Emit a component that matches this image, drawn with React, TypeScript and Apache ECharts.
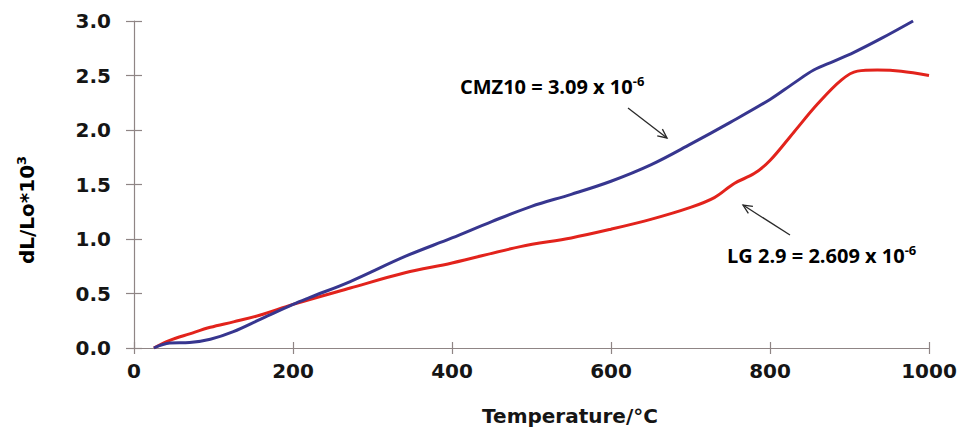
import React, { useEffect, useRef } from "react";
import * as echarts from "echarts";

// CMZ10 (blue)
const cmzTemp = [25, 45, 70, 96, 125, 158, 200, 220, 272, 341, 400, 450, 500, 550, 600, 650, 700, 750, 800, 830, 855, 880, 905, 940, 980];
const cmzVal = [0, 0.045, 0.05, 0.08, 0.15, 0.26, 0.4, 0.46, 0.61, 0.84, 1.01, 1.16, 1.3, 1.41, 1.53, 1.68, 1.87, 2.07, 2.28, 2.43, 2.55, 2.63, 2.71, 2.84, 3.0];
// LG 2.9 (red)
const lgTemp = [25, 45, 70, 96, 125, 158, 200, 272, 341, 400, 486, 550, 600, 650, 700, 730, 755, 780, 800, 830, 860, 890, 910, 935, 965, 1000];
const lgVal = [0, 0.07, 0.13, 0.19, 0.24, 0.3, 0.4, 0.55, 0.69, 0.78, 0.93, 1.01, 1.09, 1.18, 1.29, 1.38, 1.51, 1.6, 1.72, 1.98, 2.24, 2.46, 2.54, 2.55, 2.54, 2.5];

const xTicks = { min: 0, max: 1000, interval: 200 };
const yTicks = { min: 0, max: 3, interval: 0.5 };

const cmzLabel = ["CMZ10 = 3.09 x 10", "-6"];
const lgLabel = ["LG 2.9 = 2.609 x 10", "-6"];
const xName = "Temperature/°C";
const yName = ["dL/Lo*10", "3"];

const AXIS_COLOR = "#8f8585";
const TEXT_COLOR = "#151515";
const TICK_FONT = "DejaVu Sans";

function arrow(x1: number, y1: number, x2: number, y2: number) {
  const dx = x2 - x1;
  const dy = y2 - y1;
  const len = Math.sqrt(dx * dx + dy * dy);
  const ux = dx / len;
  const uy = dy / len;
  const h = 10;
  const a = (25 * Math.PI) / 180;
  const rot = (ang: number) => [ux * Math.cos(ang) - uy * Math.sin(ang), ux * Math.sin(ang) + uy * Math.cos(ang)];
  const [r1x, r1y] = rot(a);
  const [r2x, r2y] = rot(-a);
  const style = { stroke: "#2a2a2a", lineWidth: 1.3, fill: null };
  return [
    { type: "line", shape: { x1, y1, x2, y2 }, style },
    {
      type: "polyline",
      shape: { points: [[x2 - h * r1x, y2 - h * r1y], [x2, y2], [x2 - h * r2x, y2 - h * r2y]] },
      style,
    },
  ];
}

export default function App() {
  const ref = useRef<HTMLDivElement>(null);
  useEffect(() => {
    if (!ref.current) return;
    const chart = echarts.init(ref.current, null, { renderer: "svg" });
    const annStyleRich = {
      b: { fontFamily: "Open Sans", fontWeight: "bold", fontSize: 20, color: TEXT_COLOR, lineHeight: 24 },
      s: { fontFamily: "Open Sans", fontWeight: "bold", fontSize: 13, color: TEXT_COLOR, verticalAlign: "top", lineHeight: 24, padding: [0, 0, 10, 0] },
    };
    chart.setOption({
      animation: false,
      backgroundColor: "#ffffff",
      grid: { left: 134, right: 35, top: 21, bottom: 84 },
      xAxis: [
        {
          type: "value",
          ...xTicks,
          position: "bottom",
          axisLine: { show: true, lineStyle: { color: AXIS_COLOR, width: 1.2 } },
          axisTick: { show: true, length: 6, lineStyle: { color: AXIS_COLOR, width: 1.2 } },
          axisLabel: {
            margin: 13,
            fontFamily: TICK_FONT,
            fontWeight: "bold",
            fontSize: 20,
            color: TEXT_COLOR,
            formatter: (v: number) => String(v),
          },
          splitLine: { show: false },
        },
        {
          type: "value",
          ...xTicks,
          position: "bottom",
          axisLine: { show: false },
          axisTick: { show: true, inside: true, length: 6, lineStyle: { color: AXIS_COLOR, width: 1.2 } },
          axisLabel: { show: false },
          splitLine: { show: false },
        },
      ],
      yAxis: [
        {
          type: "value",
          ...yTicks,
          position: "left",
          axisLine: { show: true, lineStyle: { color: AXIS_COLOR, width: 1.2 } },
          axisTick: { show: true, length: 8, lineStyle: { color: AXIS_COLOR, width: 1.2 } },
          axisLabel: {
            margin: 23,
            fontFamily: TICK_FONT,
            fontWeight: "bold",
            fontSize: 20,
            color: TEXT_COLOR,
            formatter: (v: number) => v.toFixed(1),
          },
          splitLine: { show: false },
        },
        {
          type: "value",
          ...yTicks,
          position: "left",
          axisLine: { show: false },
          axisTick: { show: true, inside: true, length: 8, lineStyle: { color: AXIS_COLOR, width: 1.2 } },
          axisLabel: { show: false },
          splitLine: { show: false },
        },
      ],
      series: [
        {
          type: "line",
          name: "CMZ10",
          data: cmzTemp.map((t, i) => [t, cmzVal[i]]),
          smooth: 0.35,
          symbol: "none",
          lineStyle: { color: "#37368f", width: 3 },
          z: 3,
        },
        {
          type: "line",
          name: "LG 2.9",
          data: lgTemp.map((t, i) => [t, lgVal[i]]),
          smooth: 0.35,
          symbol: "none",
          lineStyle: { color: "#e2231c", width: 3 },
          z: 2,
        },
      ],
      graphic: [
        {
          type: "text",
          left: 460,
          top: 74,
          style: {
            text: `{b|${cmzLabel[0]}}{s|${cmzLabel[1]}}`,
            rich: annStyleRich,
          },
        },
        {
          type: "text",
          left: 727,
          top: 243,
          style: {
            text: `{b|${lgLabel[0]}}{s|${lgLabel[1]}}`,
            rich: annStyleRich,
          },
        },
        ...arrow(628, 108, 667, 138),
        ...arrow(790, 235, 743, 205),
        {
          type: "text",
          x: 570,
          y: 416,
          style: {
            text: xName,
            fontFamily: TICK_FONT,
            fontWeight: "bold",
            fontSize: 20,
            fill: TEXT_COLOR,
            align: "center",
            verticalAlign: "middle",
          },
        },
        {
          type: "text",
          x: 27,
          y: 210,
          rotation: Math.PI / 2,
          style: {
            text: `{b|${yName[0]}}{s|${yName[1]}}`,
            align: "center",
            verticalAlign: "middle",
            rich: {
              b: { fontFamily: TICK_FONT, fontWeight: "bold", fontSize: 20, color: TEXT_COLOR, lineHeight: 24 },
              s: { fontFamily: TICK_FONT, fontWeight: "bold", fontSize: 13, color: TEXT_COLOR, verticalAlign: "top", lineHeight: 24, padding: [0, 0, 10, 0] },
            },
          },
        },
      ],
    });
    return () => chart.dispose();
  }, []);
  return <div ref={ref} style={{ position: "fixed", left: 0, top: 0, width: 964, height: 432 }} />;
}
